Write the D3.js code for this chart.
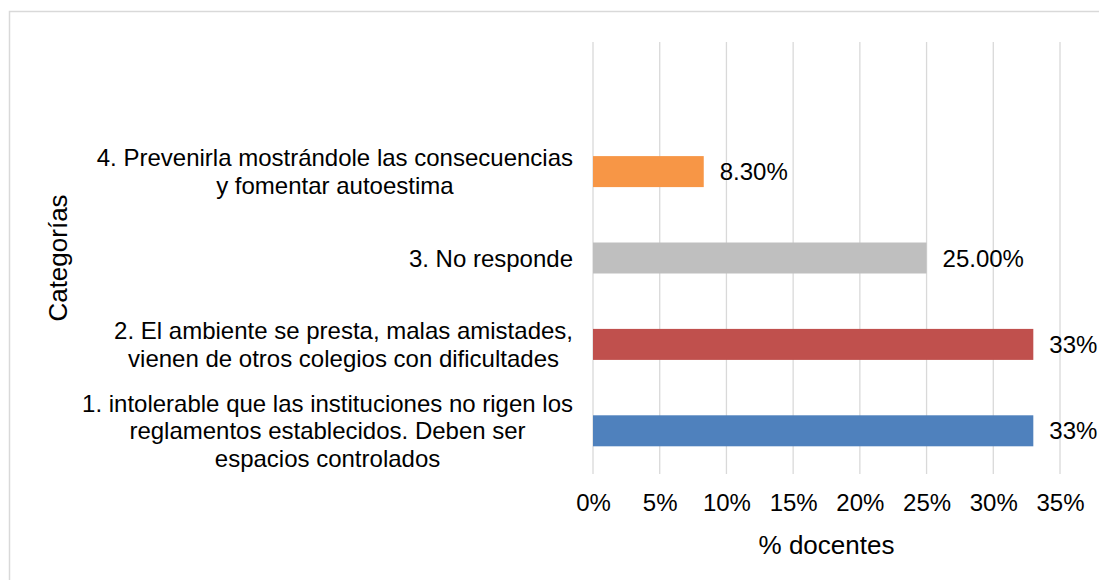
<!DOCTYPE html>
<html>
<head>
<meta charset="utf-8">
<script src="https://cdn.jsdelivr.net/npm/d3@7"></script>
<style>
  html, body { margin: 0; padding: 0; background: #fff; overflow: hidden; }
  svg { display: block; font-family: "Liberation Sans", Arial, sans-serif; }
</style>
</head>
<body>
<svg id="chart" width="1099" height="580"></svg>
<script>
// ---- data ----
const categories = [
  ["1. intolerable que las instituciones no rigen los", "reglamentos establecidos. Deben ser", "espacios controlados"],
  ["2. El ambiente se presta, malas amistades,", "vienen de otros colegios con dificultades"],
  ["3. No responde"],
  ["4. Prevenirla mostrándole las consecuencias", "y fomentar autoestima"]
];
const values = [33, 33, 25, 8.3];
const valueLabels = ["33%", "33%", "25.00%", "8.30%"];
const barColors = ["#4F81BD", "#C0504D", "#BFBFBF", "#F79646"];
const xTicks = [0, 5, 10, 15, 20, 25, 30, 35];
const xTitle = "% docentes";
const yTitle = "Categorías";

// ---- layout ----
const svg = d3.select("#chart");
const plot = { left: 593, right: 1060, top: 42, bottom: 474 };
const slots = 5; // plot area holds one empty slot above the categories
const step = (plot.bottom - plot.top) / slots;
const fs = "24px";

// chart border (only top/left edges visible)
svg.append("rect")
  .attr("x", 9.5).attr("y", 11.5)
  .attr("width", 1200).attr("height", 700)
  .attr("fill", "none").attr("stroke", "#D9D9D9").attr("stroke-width", 1.5);

const x = d3.scaleLinear().domain([0, 35]).range([plot.left, plot.right]);
const y = d3.scaleBand()
  .domain(d3.range(categories.length))
  .range([plot.bottom, plot.bottom - step * categories.length])
  .paddingInner(0.64).paddingOuter(0.32);

// gridlines
svg.append("g").selectAll("line").data(xTicks).join("line")
  .attr("x1", d => x(d)).attr("x2", d => x(d))
  .attr("y1", plot.top).attr("y2", plot.bottom)
  .attr("stroke", "#D9D9D9").attr("stroke-width", 1.3);

// x tick labels via axis
const xAxis = d3.axisBottom(x).tickValues(xTicks).tickFormat(d => d + "%").tickSize(0).tickPadding(0);
const gx = svg.append("g").attr("transform", `translate(0, ${plot.bottom})`).call(xAxis);
gx.select(".domain").remove();
gx.selectAll("text")
  .attr("y", 37).attr("dy", 0)
  .attr("fill", "#000").style("font-size", fs)
  .style("font-family", '"Liberation Sans", Arial, sans-serif');

// bars
const idx = d3.range(values.length);
const bh = 31;
const center = i => y(i) + y.bandwidth() / 2;
svg.append("g").selectAll("rect").data(idx).join("rect")
  .attr("x", x(0))
  .attr("y", i => center(i) - bh / 2)
  .attr("width", i => x(values[i]) - x(0))
  .attr("height", bh)
  .attr("fill", i => barColors[i]);

// value labels
svg.append("g").selectAll("text").data(idx).join("text")
  .attr("x", i => x(values[i]) + 16)
  .attr("y", i => center(i))
  .attr("dy", "0.36em")
  .style("font-size", fs)
  .attr("fill", "#000")
  .text(i => valueLabels[i]);

// category labels: blocks right-aligned, lines centered in block
const lineH = 27.5;
const labelRight = 573;
idx.forEach(i => {
  const lines = categories[i];
  const g = svg.append("g");
  const texts = lines.map((t, k) => g.append("text")
    .style("font-size", fs).attr("fill", "#000")
    .attr("text-anchor", "middle")
    .attr("y", center(i) + (k - (lines.length - 1) / 2) * lineH)
    .attr("dy", "0.36em")
    .text(t));
  const maxW = d3.max(texts, t => t.node().getComputedTextLength());
  texts.forEach(t => t.attr("x", labelRight - maxW / 2));
});

// axis titles
svg.append("text")
  .attr("x", (plot.left + plot.right) / 2).attr("y", 554)
  .attr("text-anchor", "middle")
  .style("font-size", "26px").attr("fill", "#000")
  .text(xTitle);

svg.append("text")
  .attr("transform", `translate(67, ${(plot.top + plot.bottom) / 2}) rotate(-90)`)
  .attr("text-anchor", "middle")
  .style("font-size", "26px").attr("fill", "#000")
  .text(yTitle);
</script>
</body>
</html>
